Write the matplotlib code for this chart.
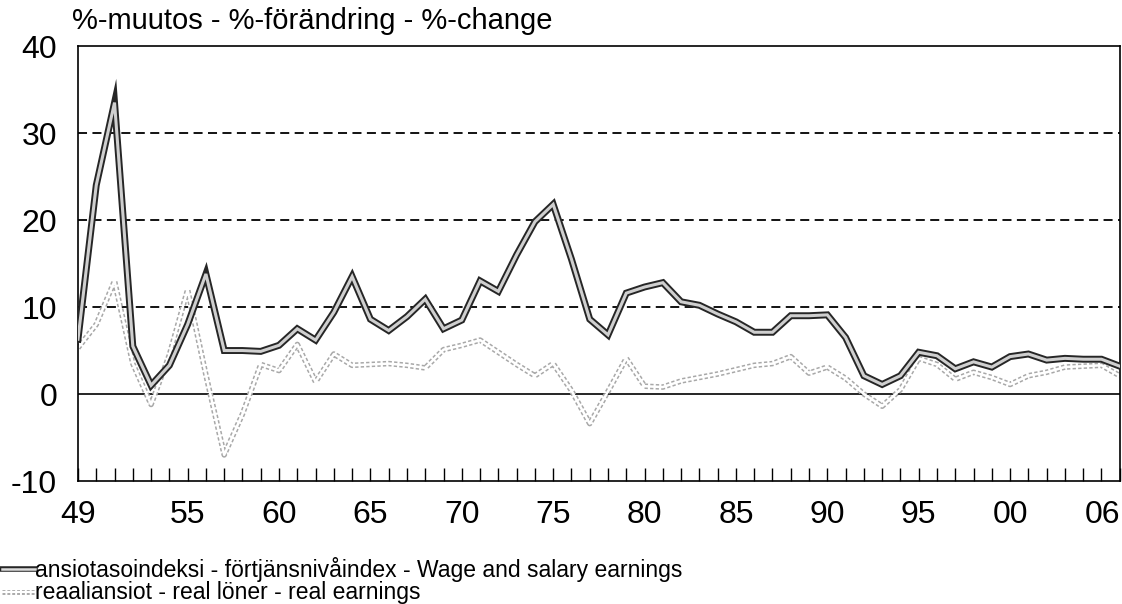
import numpy as np
import matplotlib.pyplot as plt
from matplotlib.lines import Line2D

plt.rcParams['font.family'] = ['Liberation Sans', 'DejaVu Sans']

# vuodet 1949-2006
years = np.arange(1949, 2007)

# ansiotasoindeksi, muutos %
wage = [6.3, 24.0, 33.5, 5.5, 1.0, 3.3, 8.0, 13.8, 5.0, 5.0,
        4.9, 5.6, 7.5, 6.2, 9.4, 13.5, 8.6, 7.3, 8.9, 10.9,
        7.5, 8.5, 13.0, 11.8, 16.0, 19.8, 21.8, 15.5, 8.6, 6.8,
        11.6, 12.3, 12.8, 10.6, 10.2, 9.2, 8.3, 7.1, 7.1, 9.0,
        9.0, 9.1, 6.5, 2.1, 1.1, 2.1, 4.8, 4.4, 2.9, 3.7,
        3.1, 4.3, 4.6, 3.9, 4.1, 4.0, 4.0, 3.2]

# reaaliansiot, muutos %
real = [5.3, 8.0, 13.0, 3.5, -1.2, 4.5, 12.0, 2.2, -7.0, -2.3,
        3.4, 2.7, 5.7, 1.4, 4.6, 3.3, 3.4, 3.5, 3.3, 3.0,
        5.1, 5.6, 6.2, 4.8, 3.4, 2.1, 3.5, 0.4, -3.4, 0.3,
        4.1, 0.9, 0.8, 1.5, 1.9, 2.3, 2.8, 3.3, 3.5, 4.3,
        2.4, 3.1, 1.8, 0.0, -1.4, 0.5, 4.1, 3.4, 1.7, 2.5,
        1.9, 1.1, 2.1, 2.5, 3.1, 3.2, 3.3, 2.1]

tick_years = [1949, 1955, 1960, 1965, 1970, 1975, 1980, 1985, 1990, 1995, 2000, 2006]
tick_labels = ['49', '55', '60', '65', '70', '75', '80', '85', '90', '95', '00', '06']
y_ticks = [-10, 0, 10, 20, 30, 40]
y_labels = ['-10', '0', '10', '20', '30', '40']

title = '%-muutos - %-förändring - %-change'
label_wage = 'ansiotasoindeksi - förtjänsnivåindex - Wage and salary earnings'
label_real = 'reaaliansiot - real löner - real earnings'

fig = plt.figure(figsize=(11.22, 6.04), dpi=100)
ax = fig.add_axes([0.0695, 0.2036, 0.9285, 0.7202])

# katkoviivat ja nollaviiva
for v in [10, 20, 30]:
    ax.axhline(v, color='black', lw=1.3, ls=(0, (5, 3)), zorder=1)
ax.axhline(0, color='black', lw=1.2, zorder=1)

# reaaliansiot: harmaa pisteviiva
ax.plot(years, real, color='#a8a8a8', lw=4, ls=(0, (0.6, 0.4)), zorder=2)
ax.plot(years, real, color='white', lw=1.8, zorder=2)

# ansiotasoindeksi: kaksoisviiva
ax.plot(years, wage, color='#262626', lw=5, solid_joinstyle='miter', zorder=3)
ax.plot(years, wage, color='#cfcfcf', lw=2.2, solid_joinstyle='miter', zorder=3)

ax.set_xlim(1949, 2006)
ax.set_ylim(-10, 40)
ax.set_xticks(tick_years)
ax.set_xticklabels(tick_labels)
ax.get_xticklabels()[-1].set_horizontalalignment('right')
ax.set_xticks(years, minor=True)
ax.tick_params(axis='x', which='both', direction='in', length=9.5, width=1, pad=14,
               labelsize=23, top=False)
ax.set_yticks(y_ticks)
ax.set_yticklabels(y_labels)
ax.tick_params(axis='y', length=0, pad=15, labelsize=23)
for s in ax.spines.values():
    s.set_linewidth(1.2)

fig.text(0.064, 1 - 21 / 604, title, fontsize=21, va='center')

# selite
leg1_y = 1 - 569 / 604
leg2_y = 1 - 592 / 604
fig.add_artist(Line2D([0.002, 0.031], [leg1_y, leg1_y], transform=fig.transFigure,
                      color='#262626', lw=4))
fig.add_artist(Line2D([0.002, 0.031], [leg1_y, leg1_y], transform=fig.transFigure,
                      color='#dddddd', lw=1.8))
fig.add_artist(Line2D([0.002, 0.031], [leg2_y, leg2_y], transform=fig.transFigure,
                      color='#a8a8a8', lw=3.5, ls=(0, (0.6, 0.4))))
fig.add_artist(Line2D([0.002, 0.031], [leg2_y, leg2_y], transform=fig.transFigure,
                      color='white', lw=1.5))
fig.text(0.031, leg1_y, label_wage, fontsize=16.5, va='center')
fig.text(0.031, leg2_y, label_real, fontsize=16.5, va='center')

fig.savefig('out.png', dpi=100)
